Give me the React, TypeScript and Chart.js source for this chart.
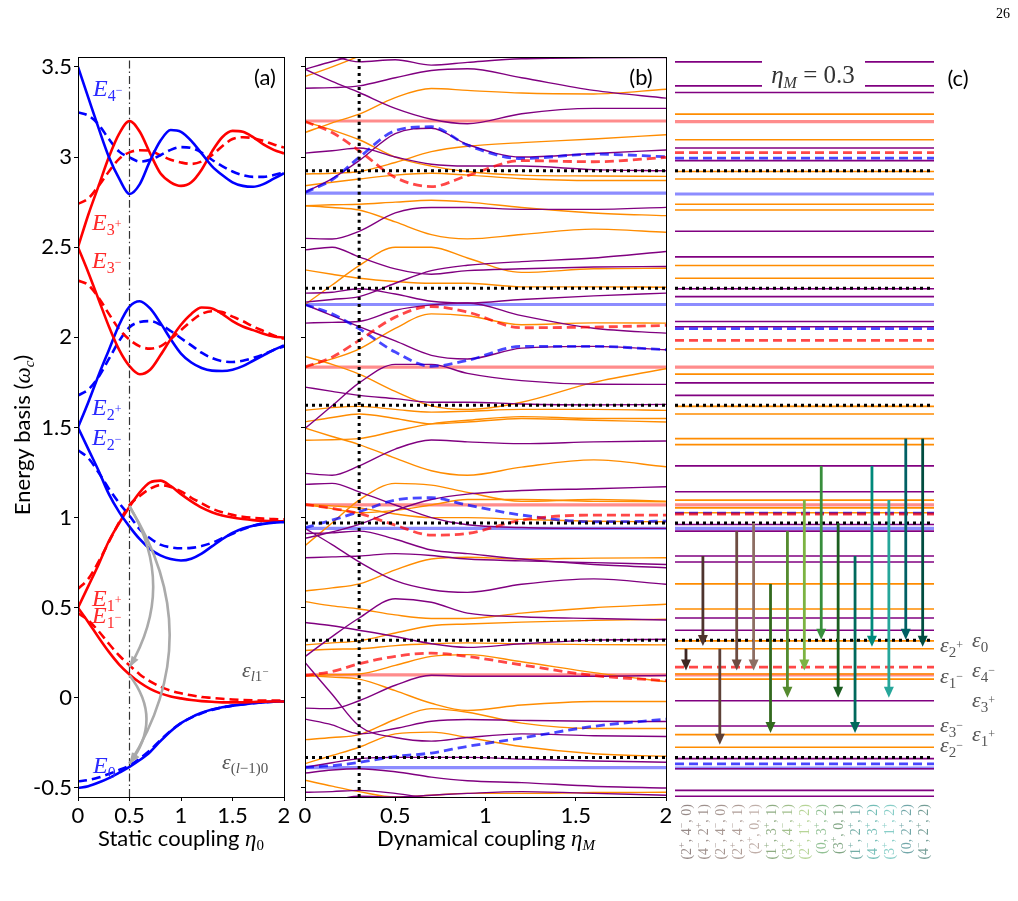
import React, { useEffect, useRef } from "react";
import { Chart, registerables } from "chart.js";
Chart.register(...registerables);

// ---------------- shared axes ----------------
const Y_MIN = -0.55;
const Y_MAX = 3.555;
const Y_TICKS = [-0.5, 0, 0.5, 1, 1.5, 2, 2.5, 3, 3.5];
const Y_TICK_LABELS = ["-0.5", "0", "0.5", "1", "1.5", "2", "2.5", "3", "3.5"];
const X_TICKS = [0, 0.5, 1, 1.5, 2];
const X_TICK_LABELS = ["0", "0.5", "1", "1.5", "2"];

// ---------------- panel (a): static coupling ----------------
const ETA0 = [0, 0.1, 0.2, 0.3, 0.4, 0.5, 0.6, 0.7, 0.8, 0.9, 1.0, 1.1, 1.2, 1.3, 1.4, 1.5, 1.6, 1.7, 1.8, 1.9, 2.0];
const E4M = [3.5, 3.33, 3.16, 3.0, 2.88, 2.795, 2.85, 2.98, 3.09, 3.15, 3.14, 3.09, 3.02, 2.95, 2.9, 2.86, 2.84, 2.835, 2.85, 2.88, 2.91];
const E4M_D = [3.247, 3.23, 3.18, 3.1, 3.03, 2.998, 2.975, 2.985, 3.01, 3.04, 3.055, 3.05, 3.025, 2.985, 2.95, 2.92, 2.9, 2.89, 2.89, 2.9, 2.915];
const E3P = [2.5, 2.68, 2.84, 3.0, 3.13, 3.2, 3.14, 3.02, 2.91, 2.86, 2.84, 2.86, 2.93, 3.03, 3.11, 3.145, 3.14, 3.11, 3.07, 3.04, 3.02];
const E3P_D = [2.74, 2.77, 2.84, 2.92, 2.99, 3.026, 3.038, 3.035, 3.01, 2.985, 2.97, 2.962, 2.975, 3.01, 3.06, 3.1, 3.11, 3.105, 3.09, 3.07, 3.053];
const E3M = [2.5, 2.36, 2.21, 2.06, 1.93, 1.84, 1.795, 1.82, 1.9, 1.99, 2.07, 2.13, 2.165, 2.16, 2.13, 2.09, 2.06, 2.04, 2.02, 2.005, 1.998];
const E3M_D = [2.315, 2.29, 2.22, 2.13, 2.045, 1.987, 1.95, 1.937, 1.95, 1.99, 2.04, 2.09, 2.13, 2.145, 2.14, 2.115, 2.09, 2.06, 2.035, 2.01, 1.992];
const E2P = [1.5, 1.64, 1.79, 1.93, 2.07, 2.17, 2.2, 2.16, 2.08, 1.99, 1.91, 1.86, 1.83, 1.815, 1.813, 1.82, 1.84, 1.87, 1.9, 1.93, 1.955];
const E2P_D = [1.678, 1.71, 1.78, 1.88, 1.98, 2.056, 2.085, 2.09, 2.07, 2.035, 1.995, 1.955, 1.915, 1.885, 1.868, 1.863, 1.87, 1.885, 1.905, 1.93, 1.95];
const E2M = [1.5, 1.38, 1.26, 1.13, 1.03, 0.95, 0.88, 0.825, 0.79, 0.77, 0.762, 0.772, 0.8, 0.84, 0.88, 0.915, 0.94, 0.955, 0.965, 0.972, 0.975];
const E2M_D = [1.374, 1.33, 1.25, 1.16, 1.08, 1.01, 0.935, 0.885, 0.85, 0.835, 0.83, 0.832, 0.842, 0.86, 0.885, 0.91, 0.935, 0.955, 0.968, 0.975, 0.98];
const E1P = [0.5, 0.62, 0.74, 0.87, 0.97, 1.06, 1.14, 1.195, 1.205, 1.175, 1.13, 1.09, 1.055, 1.03, 1.012, 1.0, 0.992, 0.986, 0.982, 0.98, 0.98];
const E1P_D = [0.605, 0.66, 0.755, 0.865, 0.975, 1.07, 1.12, 1.16, 1.18, 1.17, 1.145, 1.11, 1.08, 1.05, 1.03, 1.015, 1.005, 0.998, 0.994, 0.992, 0.99];
const E1M = [0.5, 0.42, 0.335, 0.255, 0.185, 0.13, 0.085, 0.05, 0.025, 0.008, -0.003, -0.012, -0.018, -0.022, -0.025, -0.025, -0.025, -0.023, -0.021, -0.02, -0.02];
const E1M_D = [0.47, 0.43, 0.37, 0.3, 0.235, 0.18, 0.13, 0.092, 0.062, 0.04, 0.025, 0.014, 0.005, 0.0, -0.005, -0.009, -0.012, -0.014, -0.015, -0.015, -0.015];
const E0 = [-0.5, -0.49, -0.47, -0.445, -0.415, -0.383, -0.345, -0.3, -0.24, -0.185, -0.14, -0.108, -0.083, -0.065, -0.052, -0.043, -0.036, -0.03, -0.025, -0.022, -0.02];
const E0_D = [-0.463, -0.456, -0.442, -0.422, -0.4, -0.375, -0.337, -0.29, -0.235, -0.183, -0.14, -0.11, -0.086, -0.067, -0.053, -0.043, -0.036, -0.03, -0.025, -0.022, -0.02];
const ETA0_MARK = 0.5;
// gray transition arcs: start level, end level, bulge position
const ARC_FROM = [1.065, 1.06, 0.125];
const ARC_TO = [0.17, -0.365, -0.365];
const ARC_BULGE = [0.96, 1.28, 0.83];

// ---------------- panel (b): dynamical coupling ----------------
const ETAM = [0, 0.15, 0.3, 0.5, 0.7, 0.9, 1.2, 1.6, 2.0];
const B_PURPLE = [
  [3.487, 3.53, 3.57, 3.62, 3.66, 3.7, 3.75, 3.8, 3.85],
  [3.6, 3.56, 3.528, 3.54, 3.51, 3.525, 3.545, 3.55, 3.552],
  [3.382, 3.385, 3.395, 3.44, 3.48, 3.49, 3.44, 3.37, 3.327],
  [3.487, 3.42, 3.358, 3.27, 3.21, 3.185, 3.24, 3.27, 3.27],
  [3.022, 3.035, 3.05, 3.0, 2.96, 2.95, 2.95, 2.93, 2.924],
  [2.804, 2.88, 2.98, 3.13, 3.16, 3.07, 3.0, 3.02, 3.039],
  [2.549, 2.545, 2.588, 2.69, 2.72, 2.72, 2.71, 2.71, 2.721],
  [2.485, 2.5, 2.446, 2.38, 2.35, 2.37, 2.38, 2.39, 2.393],
  [2.245, 2.25, 2.269, 2.24, 2.2, 2.19, 2.21, 2.23, 2.245],
  [2.195, 2.21, 2.226, 2.3, 2.37, 2.4, 2.42, 2.44, 2.476],
  [2.079, 2.083, 2.088, 2.15, 2.18, 2.19, 2.12, 2.05, 2.023],
  [2.182, 2.12, 2.059, 1.98, 1.9, 1.88, 1.94, 1.95, 1.931],
  [1.724, 1.7, 1.678, 1.66, 1.64, 1.64, 1.63, 1.625, 1.628],
  [1.494, 1.62, 1.747, 1.85, 1.85, 1.8, 1.76, 1.74, 1.739],
  [1.245, 1.235, 1.287, 1.38, 1.43, 1.42, 1.41, 1.42, 1.425],
  [1.184, 1.19, 1.143, 1.07, 1.0, 0.96, 0.945, 0.94, 0.94],
  [0.885, 0.92, 0.962, 1.04, 1.1, 1.13, 1.15, 1.16, 1.171],
  [0.912, 0.915, 0.925, 0.88, 0.82, 0.8, 0.77, 0.74, 0.722],
  [0.777, 0.782, 0.787, 0.8, 0.79, 0.77, 0.76, 0.75, 0.74],
  [0.94, 0.85, 0.754, 0.65, 0.6, 0.585, 0.63, 0.66, 0.63],
  [0.229, 0.34, 0.443, 0.55, 0.53, 0.47, 0.45, 0.44, 0.432],
  [0.418, 0.4, 0.375, 0.34, 0.3, 0.28, 0.3, 0.32, 0.325],
  [-0.057, -0.06, -0.016, 0.07, 0.125, 0.12, 0.12, 0.12, 0.124],
  [0.196, 0.02, -0.156, -0.22, -0.24, -0.22, -0.2, -0.21, -0.214],
  [-0.118, -0.15, -0.2, -0.17, -0.13, -0.12, -0.125, -0.13, -0.131],
  [-0.385, -0.36, -0.337, -0.33, -0.33, -0.33, -0.34, -0.35, -0.357],
  [-0.417, -0.4, -0.393, -0.41, -0.44, -0.46, -0.47, -0.49, -0.5],
  [-0.524, -0.52, -0.513, -0.53, -0.56, -0.58, -0.6, -0.6, -0.6],
  [-0.6, -0.57, -0.546, -0.55, -0.54, -0.53, -0.52, -0.53, -0.54],
];
const B_ORANGE = [
  [3.447, 3.5, 3.56, 3.65, 3.72, 3.8, 3.9, 3.95, 4.0],
  [3.136, 3.19, 3.238, 3.33, 3.38, 3.37, 3.355, 3.35, 3.376],
  [3.197, 3.15, 3.096, 3.0, 2.95, 2.92, 2.9, 2.895, 2.893],
  [2.906, 2.91, 2.92, 2.97, 3.03, 3.06, 3.08, 3.1, 3.124],
  [2.841, 2.86, 2.878, 2.9, 2.91, 2.9, 2.88, 2.87, 2.87],
  [2.73, 2.735, 2.738, 2.75, 2.76, 2.75, 2.72, 2.69, 2.675],
  [2.73, 2.72, 2.706, 2.64, 2.57, 2.546, 2.57, 2.6, 2.583],
  [2.182, 2.29, 2.398, 2.5, 2.5, 2.44, 2.36, 2.38, 2.383],
  [2.374, 2.35, 2.328, 2.31, 2.3, 2.3, 2.28, 2.28, 2.278],
  [1.835, 1.88, 1.935, 2.05, 2.13, 2.12, 2.07, 2.08, 2.079],
  [1.894, 1.85, 1.796, 1.7, 1.62, 1.6, 1.64, 1.75, 1.826],
  [1.595, 1.61, 1.617, 1.6, 1.585, 1.59, 1.6, 1.6, 1.595],
  [1.531, 1.555, 1.575, 1.55, 1.52, 1.53, 1.55, 1.54, 1.53],
  [1.429, 1.432, 1.438, 1.48, 1.52, 1.54, 1.56, 1.55, 1.55],
  [1.497, 1.45, 1.405, 1.33, 1.26, 1.235, 1.28, 1.32, 1.282],
  [0.844, 0.97, 1.097, 1.19, 1.18, 1.14, 1.09, 1.1, 1.091],
  [1.073, 1.065, 1.054, 1.02, 1.0, 1.0, 0.99, 0.98, 0.977],
  [1.073, 1.05, 1.027, 1.04, 1.07, 1.1, 1.1, 1.09, 1.088],
  [0.593, 0.61, 0.632, 0.71, 0.77, 0.78, 0.77, 0.775, 0.777],
  [0.534, 0.51, 0.493, 0.46, 0.44, 0.44, 0.47, 0.5, 0.519],
  [0.294, 0.305, 0.316, 0.36, 0.4, 0.41, 0.42, 0.43, 0.436],
  [0.263, 0.27, 0.272, 0.29, 0.3, 0.305, 0.3, 0.295, 0.294],
  [0.124, 0.128, 0.132, 0.18, 0.23, 0.24, 0.2, 0.14, 0.09],
  [0.124, 0.115, 0.104, 0.04, -0.03, -0.07, -0.04, -0.02, -0.02],
  [-0.232, -0.22, -0.204, -0.12, -0.06, -0.08, -0.14, -0.17, -0.17],
  [-0.365, -0.32, -0.274, -0.2, -0.19, -0.22, -0.27, -0.31, -0.324],
  [-0.457, -0.49, -0.52, -0.55, -0.54, -0.53, -0.53, -0.525, -0.524],
];
const B_RED_DASH = [
  [3.197, 3.136, 3.035, 2.887, 2.836, 2.897, 2.98, 2.974, 2.998],
  [1.835, 1.89, 1.983, 2.112, 2.171, 2.14, 2.053, 2.057, 2.066],
  [1.073, 1.051, 1.023, 0.958, 0.903, 0.912, 0.986, 1.014, 1.014],
  [0.124, 0.146, 0.189, 0.23, 0.248, 0.23, 0.183, 0.124, 0.095],
];
const B_BLUE_DASH = [
  [2.804, 2.874, 2.998, 3.146, 3.168, 3.066, 2.992, 3.016, 3.002],
  [2.182, 2.13, 2.047, 1.918, 1.839, 1.872, 1.95, 1.95, 1.931],
  [0.944, 0.986, 1.032, 1.097, 1.11, 1.069, 1.014, 0.977, 0.98],
  [-0.385, -0.376, -0.358, -0.325, -0.306, -0.269, -0.223, -0.158, -0.118],
];
const STATIC_RED = [3.2, 1.835, 1.071, 0.128];
const STATIC_BLUE = [2.8, 2.182, 0.94, -0.387];
const LADDER = [2.924, 2.272, 1.623, 0.97, 0.32, -0.331];
const ETAM_MARK = 0.3;

// ---------------- panel (c): spectrum at etaM = 0.3 ----------------
const C_PURPLE = [3.528, 3.395, 3.358, 3.05, 2.98, 2.588, 2.446, 2.269, 2.226, 2.088, 2.059, 1.747, 1.678, 1.287, 1.143, 0.962, 0.925, 0.787, 0.754, 0.443, 0.375, -0.016, -0.156, -0.337, -0.393, -0.513, -0.546];
const C_ORANGE = [3.238, 3.096, 2.92, 2.878, 2.738, 2.706, 2.398, 2.328, 1.935, 1.796, 1.617, 1.575, 1.438, 1.405, 1.097, 1.054, 1.027, 0.632, 0.493, 0.316, 0.272, 0.132, 0.104, -0.204, -0.274];
const C_PINK = [3.197, 1.835, 1.071, 0.128];
const C_BLUE = [2.795, 2.182, 0.94, -0.389];
const C_RED_DASH = [3.024, 1.983, 1.019, 0.171];
const C_BLUE_DASH = [2.994, 2.048, 1.025, -0.366];
const C_DOTTED = [2.924, 2.272, 1.623, 0.97, 0.32, -0.331];
const ARROW_FROM = [0.272, 0.787, 0.272, 0.925, 0.97, 0.632, 0.925, 1.097, 1.287, 0.97, 0.787, 1.287, 1.097, 1.438, 1.438];
const ARROW_TO = [0.152, 0.288, -0.26, 0.152, 0.152, -0.195, 0.0, 0.152, 0.322, 0.0, -0.195, 0.284, 0.0, 0.322, 0.284];
const ARROW_COLORS = ["#3e2723", "#4e342e", "#5d4037", "#6d4c41", "#8d6e63", "#33691e", "#558b2f", "#7cb342", "#388e3c", "#1b5e20", "#00695c", "#00897b", "#26a69a", "#006064", "#004d40"];
const ARROW_LABELS: [string, string, string, string, string][] = [
  ["2", "+", "4", "−", "0"], ["4", "−", "2", "+", "1"], ["2", "−", "4", "−", "0"], ["2", "+", "4", "−", "1"], ["2", "+", "0", "", "1"],
  ["1", "+", "3", "+", "1"], ["3", "+", "4", "−", "1"], ["2", "+", "1", "+", "2"], ["0", "", "3", "+", "2"], ["3", "+", "0", "", "1"],
  ["1", "+", "2", "+", "1"], ["4", "−", "3", "+", "2"], ["3", "+", "1", "+", "2"], ["0", "", "2", "+", "2"], ["4", "−", "2", "+", "2"],
];

// ---------------- styles ----------------
const PURPLE = "#800080";
const ORANGE = "#ff8c00";
const BLUE = "#0000ff";
const RED = "#ff0000";
const PINK_THICK = "rgba(255,0,0,0.45)";
const BLUE_THICK = "rgba(0,0,255,0.45)";
const RED_DASHED = "rgba(255,0,0,0.72)";
const BLUE_DASHED = "rgba(0,0,255,0.72)";
const SANS = "Lato";
const SERIF = "'Liberation Serif'";

type Seg = { t: string; f: string; dy?: number };
function rich(ctx: CanvasRenderingContext2D, segs: Seg[], x: number, y: number, align: string, color: string) {
  ctx.save();
  ctx.textAlign = "left";
  ctx.textBaseline = "alphabetic";
  ctx.fillStyle = color;
  const w = segs.map((s) => {
    ctx.font = s.f;
    return ctx.measureText(s.t).width;
  });
  const total = w.reduce((a, b) => a + b, 0);
  let cx = align === "center" ? x - total / 2 : align === "right" ? x - total : x;
  segs.forEach((s, i) => {
    ctx.font = s.f;
    ctx.fillText(s.t, cx, y + (s.dy || 0));
    cx += w[i];
  });
  ctx.restore();
}

function mathE(sub: string, sup: string): Seg[] {
  const segs: Seg[] = [{ t: "E", f: `italic 24px ${SERIF}` }, { t: sub, f: `16px ${SERIF}`, dy: 5 }];
  if (sup) segs.push({ t: sup === "−" ? "−" : "+", f: `12px ${SERIF}`, dy: -2 });
  return segs;
}
function eps(sub: Seg[]): Seg[] {
  return [{ t: "ε", f: `italic 22px ${SERIF}` }, ...sub];
}

function frame(chart: any) {
  const { ctx, chartArea: a } = chart;
  ctx.save();
  ctx.strokeStyle = "#000";
  ctx.lineWidth = 1;
  ctx.strokeRect(Math.round(a.left) + 0.5, Math.round(a.top) + 0.5, Math.round(a.right - a.left), Math.round(a.bottom - a.top));
  ctx.restore();
}

function arrowHead(ctx: CanvasRenderingContext2D, x: number, y: number, ang: number, len: number, wid: number, color: string) {
  ctx.save();
  ctx.translate(x, y);
  ctx.rotate(ang);
  ctx.beginPath();
  ctx.moveTo(0, 0);
  ctx.lineTo(-len, wid / 2);
  ctx.lineTo(-len, -wid / 2);
  ctx.closePath();
  ctx.fillStyle = color;
  ctx.fill();
  ctx.restore();
}

const pts = (xs: number[], ys: number[]) => xs.map((x, i) => ({ x, y: ys[i] }));
const hline = (y: number, x0: number, x1: number) => [{ x: x0, y }, { x: x1, y }];

function axesOptions(showYLabels: boolean, yWidth: number) {
  return {
    x: {
      type: "linear",
      min: 0,
      max: 2,
      afterBuildTicks: (s: any) => { s.ticks = X_TICKS.map((v) => ({ value: v })); },
      afterFit: (s: any) => { s.height = 104; },
      grid: { display: true, drawOnChartArea: false, drawTicks: true, tickLength: 4, color: "#000", lineWidth: 1 },
      border: { display: true, color: "#000", width: 1 },
      ticks: { font: { family: SANS, size: 22 }, color: "#000", padding: 2, maxRotation: 0, autoSkip: false, callback: (_v: any, i: number) => X_TICK_LABELS[i] },
    },
    y: {
      type: "linear",
      min: Y_MIN,
      max: Y_MAX,
      afterBuildTicks: (s: any) => { s.ticks = Y_TICKS.map((v) => ({ value: v })); },
      afterFit: (s: any) => { s.width = yWidth; },
      grid: { display: true, drawOnChartArea: false, drawTicks: true, tickLength: 4, color: "#000", lineWidth: 1 },
      border: { display: true, color: "#000", width: 1 },
      ticks: { display: showYLabels, font: { family: SANS, size: 22 }, color: "#000", padding: 2, autoSkip: false, callback: (_v: any, i: number) => Y_TICK_LABELS[i] },
    },
  };
}

const baseOpts = {
  responsive: false,
  animation: false,
  devicePixelRatio: 1,
  events: [],
  plugins: { legend: { display: false }, tooltip: { enabled: false } },
  elements: { point: { radius: 0 }, line: { cubicInterpolationMode: "monotone" } },
};

function configA(): any {
  const curve = (ys: number[], color: string, dashed: boolean) => ({
    data: pts(ETA0, ys),
    borderColor: color,
    borderWidth: 2.6,
    borderDash: dashed ? [9, 5] : [],
    order: dashed ? 3 : 2,
  });
  const datasets = [
    curve(E4M, BLUE, false), curve(E4M_D, BLUE, true),
    curve(E3P, RED, false), curve(E3P_D, RED, true),
    curve(E3M, RED, false), curve(E3M_D, RED, true),
    curve(E2P, BLUE, false), curve(E2P_D, BLUE, true),
    curve(E2M, BLUE, false), curve(E2M_D, BLUE, true),
    curve(E1P, RED, false), curve(E1P_D, RED, true),
    curve(E1M, RED, false), curve(E1M_D, RED, true),
    curve(E0, BLUE, false), curve(E0_D, BLUE, true),
    { data: [{ x: ETA0_MARK, y: Y_MIN }, { x: ETA0_MARK, y: Y_MAX }], borderColor: "#333", borderWidth: 1.2, borderDash: [8, 3, 1.5, 3], order: 1 },
  ];
  const plugin = {
    id: "pa",
    afterDatasetsDraw(chart: any) {
      const { ctx } = chart;
      const xs = chart.scales.x, ys = chart.scales.y;
      ctx.save();
      ctx.strokeStyle = "#aaaaaa";
      ctx.lineWidth = 2.6;
      for (let i = 0; i < ARC_FROM.length; i++) {
        const x0 = xs.getPixelForValue(ETA0_MARK), y0 = ys.getPixelForValue(ARC_FROM[i]);
        const y1 = ys.getPixelForValue(ARC_TO[i]);
        const cxp = xs.getPixelForValue(ARC_BULGE[i]), cyp = (y0 + y1) / 2;
        ctx.beginPath();
        ctx.moveTo(x0, y0);
        ctx.quadraticCurveTo(cxp, cyp, x0, y1);
        ctx.stroke();
        const ang = Math.atan2(y1 - cyp, x0 - cxp);
        arrowHead(ctx, x0, y1, ang, 11, 8, "#aaaaaa");
      }
      ctx.restore();
    },
    afterDraw(chart: any) {
      const { ctx } = chart;
      frame(chart);
      const blue = "#2a2aff", red = "#ff2a2a", gray = "#555";
      rich(ctx, mathE("4", "−"), 93, 96, "left", blue);
      rich(ctx, mathE("3", "+"), 92, 230, "left", red);
      rich(ctx, mathE("3", "−"), 92, 268, "left", red);
      rich(ctx, mathE("2", "+"), 92, 415, "left", blue);
      rich(ctx, mathE("2", "−"), 92, 445, "left", blue);
      rich(ctx, mathE("1", "+"), 92, 606, "left", red);
      rich(ctx, mathE("1", "−"), 92, 623, "left", red);
      rich(ctx, [{ t: "E", f: `italic 24px ${SERIF}` }, { t: "0", f: `16px ${SERIF}`, dy: 5 }], 93, 773, "left", blue);
      rich(ctx, eps([{ t: "l", f: `italic 15px ${SERIF}`, dy: 4 }, { t: "1", f: `15px ${SERIF}`, dy: 4 }, { t: "−", f: `11px ${SERIF}`, dy: -2 }]), 242, 677, "left", gray);
      rich(ctx, eps([{ t: "(", f: `15px ${SERIF}`, dy: 4 }, { t: "l", f: `italic 15px ${SERIF}`, dy: 4 }, { t: "−1)0", f: `15px ${SERIF}`, dy: 4 }]), 222, 769, "left", gray);
      rich(ctx, [{ t: "(a)", f: `22px ${SANS}` }], 265, 85, "center", "#000");
      rich(ctx, [{ t: "Static coupling ", f: `22px ${SANS}` }, { t: "η", f: `italic 23px ${SERIF}` }, { t: "0", f: `15px ${SERIF}`, dy: 4 }], 181, 846, "center", "#000");
      ctx.save();
      ctx.translate(30, 435);
      ctx.rotate(-Math.PI / 2);
      rich(ctx, [{ t: "Energy basis (", f: `22px ${SANS}` }, { t: "ω", f: `italic 23px ${SERIF}` }, { t: "c", f: `italic 15px ${SERIF}`, dy: 4 }, { t: ")", f: `22px ${SANS}` }], 0, 0, "center", "#000");
      ctx.restore();
    },
  };
  return {
    type: "line",
    data: { datasets },
    options: { ...baseOpts, layout: { padding: { left: 0, right: 16, top: 57, bottom: 0 } }, scales: axesOptions(true, 78) },
    plugins: [plugin],
  };
}

function configB(): any {
  const OX = 290;
  const datasets: any[] = [];
  STATIC_RED.forEach((y) => datasets.push({ data: hline(y, 0, 2), borderColor: PINK_THICK, borderWidth: 3.2, order: 6 }));
  STATIC_BLUE.forEach((y) => datasets.push({ data: hline(y, 0, 2), borderColor: BLUE_THICK, borderWidth: 3.2, order: 6 }));
  B_PURPLE.forEach((ys) => datasets.push({ data: pts(ETAM, ys), borderColor: PURPLE, borderWidth: 1.4, order: 5 }));
  B_ORANGE.forEach((ys) => datasets.push({ data: pts(ETAM, ys), borderColor: ORANGE, borderWidth: 1.4, order: 5 }));
  B_RED_DASH.forEach((ys) => datasets.push({ data: pts(ETAM, ys), borderColor: RED_DASHED, borderWidth: 2.8, borderDash: [9, 5], order: 4 }));
  B_BLUE_DASH.forEach((ys) => datasets.push({ data: pts(ETAM, ys), borderColor: BLUE_DASHED, borderWidth: 2.8, borderDash: [9, 5], order: 4 }));
  LADDER.forEach((y) => datasets.push({ data: hline(y, 0, 2), borderColor: "#000", borderWidth: 3, borderDash: [3, 4], order: 3 }));
  datasets.push({ data: [{ x: ETAM_MARK, y: Y_MIN }, { x: ETAM_MARK, y: Y_MAX }], borderColor: "#000", borderWidth: 3, borderDash: [3, 4], order: 2 });
  const plugin = {
    id: "pb",
    afterDraw(chart: any) {
      const { ctx } = chart;
      frame(chart);
      rich(ctx, [{ t: "(b)", f: `22px ${SANS}` }], 641 - OX, 85, "center", "#000");
      rich(ctx, [{ t: "Dynamical coupling ", f: `22px ${SANS}` }, { t: "η", f: `italic 23px ${SERIF}` }, { t: "M", f: `italic 15px ${SERIF}`, dy: 4 }], 486 - OX, 846, "center", "#000");
    },
  };
  return {
    type: "line",
    data: { datasets },
    options: { ...baseOpts, layout: { padding: { left: 0, right: 14, top: 57, bottom: 0 } }, scales: axesOptions(false, 15) },
    plugins: [plugin],
  };
}

function configC(): any {
  const X0 = -0.65, X1 = 14.67;
  const OX = 660;
  const datasets: any[] = [];
  C_PINK.forEach((y) => datasets.push({ data: hline(y, X0, X1), borderColor: PINK_THICK, borderWidth: 3.2, order: 6 }));
  C_BLUE.forEach((y) => datasets.push({ data: hline(y, X0, X1), borderColor: BLUE_THICK, borderWidth: 3.2, order: 6 }));
  C_PURPLE.forEach((y) => datasets.push({ data: hline(y, X0, X1), borderColor: PURPLE, borderWidth: 1.6, order: 5 }));
  C_ORANGE.forEach((y) => datasets.push({ data: hline(y, X0, X1), borderColor: ORANGE, borderWidth: 1.6, order: 5 }));
  C_RED_DASH.forEach((y) => datasets.push({ data: hline(y, X0, X1), borderColor: RED_DASHED, borderWidth: 2.8, borderDash: [9, 5], order: 4 }));
  C_BLUE_DASH.forEach((y) => datasets.push({ data: hline(y, X0, X1), borderColor: BLUE_DASHED, borderWidth: 2.8, borderDash: [9, 5], order: 4 }));
  C_DOTTED.forEach((y) => datasets.push({ data: hline(y, X0, X1), borderColor: "#000", borderWidth: 3, borderDash: [3, 4], order: 3 }));
  const plugin = {
    id: "pc",
    afterDatasetsDraw(chart: any) {
      const { ctx } = chart;
      const xs = chart.scales.x, ys = chart.scales.y;
      ctx.save();
      ctx.fillStyle = "#fff";
      ctx.fillRect(762 - OX, 58, 103, 30);
      ctx.restore();
      ctx.save();
      for (let i = 0; i < ARROW_FROM.length; i++) {
        const x = xs.getPixelForValue(i);
        const y0 = ys.getPixelForValue(ARROW_FROM[i]);
        const y1 = ys.getPixelForValue(ARROW_TO[i]);
        ctx.strokeStyle = ARROW_COLORS[i];
        ctx.lineWidth = 2.8;
        ctx.beginPath();
        ctx.moveTo(x, y0);
        ctx.lineTo(x, y1 - 9);
        ctx.stroke();
        arrowHead(ctx, x, y1, Math.PI / 2, 11, 10, ARROW_COLORS[i]);
      }
      ctx.restore();
    },
    afterDraw(chart: any) {
      const { ctx } = chart;
      const xs = chart.scales.x;
      rich(ctx, [{ t: "η", f: `italic 25px ${SERIF}` }, { t: "M", f: `italic 16px ${SERIF}`, dy: 5 }, { t: " = 0.3", f: `25px ${SERIF}` }], 813 - OX, 83, "center", "#333");
      rich(ctx, [{ t: "(c)", f: `22px ${SANS}` }], 958 - OX, 86, "center", "#000");
      rich(ctx, [{ t: "26", f: `14px ${SERIF}` }], 1010 - OX, 18, "right", "#000");
      const g = "#555";
      const sub = (n: string, s: string): Seg[] => {
        const r: Seg[] = [{ t: n, f: `15px ${SERIF}`, dy: 5 }];
        if (s) r.push({ t: s, f: `12px ${SERIF}`, dy: -3 });
        return r;
      };
      rich(ctx, eps(sub("2", "+")), 940 - OX, 652, "left", g);
      rich(ctx, eps(sub("0", "")), 972 - OX, 647, "left", g);
      rich(ctx, eps(sub("1", "−")), 940 - OX, 683, "left", g);
      rich(ctx, eps(sub("4", "−")), 972 - OX, 677, "left", g);
      rich(ctx, eps(sub("3", "+")), 972 - OX, 707, "left", g);
      rich(ctx, eps(sub("3", "−")), 940 - OX, 732, "left", g);
      rich(ctx, eps(sub("1", "+")), 972 - OX, 741, "left", g);
      rich(ctx, eps(sub("2", "−")), 940 - OX, 752, "left", g);
      for (let i = 0; i < ARROW_LABELS.length; i++) {
        const L = ARROW_LABELS[i];
        const x = xs.getPixelForValue(i);
        const f = `14px ${SERIF}`, fs = `10px ${SERIF}`;
        const segs: Seg[] = [{ t: "(", f }, { t: L[0], f }];
        if (L[1]) segs.push({ t: L[1], f: fs, dy: -6 });
        segs.push({ t: ", ", f }, { t: L[2], f });
        if (L[3]) segs.push({ t: L[3], f: fs, dy: -6 });
        segs.push({ t: ", ", f }, { t: L[4], f }, { t: ")", f });
        ctx.save();
        ctx.translate(x + 5, 804);
        ctx.rotate(-Math.PI / 2);
        ctx.globalAlpha = 0.55;
        rich(ctx, segs, 0, 0, "right", ARROW_COLORS[i]);
        ctx.restore();
      }
    },
  };
  return {
    type: "line",
    data: { datasets },
    options: {
      ...baseOpts,
      layout: { padding: { left: 15, right: 84, top: 57, bottom: 104 } },
      scales: {
        x: { type: "linear", min: X0, max: X1, display: false },
        y: { type: "linear", min: Y_MIN, max: Y_MAX, display: false },
      },
    },
    plugins: [plugin],
  };
}

export default function App() {
  const refA = useRef<HTMLCanvasElement>(null);
  const refB = useRef<HTMLCanvasElement>(null);
  const refC = useRef<HTMLCanvasElement>(null);
  useEffect(() => {
    const a = new Chart(refA.current as HTMLCanvasElement, configA());
    const b = new Chart(refB.current as HTMLCanvasElement, configB());
    const c = new Chart(refC.current as HTMLCanvasElement, configC());
    return () => {
      a.destroy();
      b.destroy();
      c.destroy();
    };
  }, []);
  return (
    <div style={{ position: "absolute", left: 0, top: 0, width: 1018, height: 901, background: "#fff", overflow: "hidden" }}>
      <canvas ref={refA} width={300} height={901} style={{ position: "absolute", left: 0, top: 0, width: 300, height: 901 }} />
      <canvas ref={refB} width={390} height={901} style={{ position: "absolute", left: 290, top: 0, width: 390, height: 901 }} />
      <canvas ref={refC} width={358} height={901} style={{ position: "absolute", left: 660, top: 0, width: 358, height: 901 }} />
    </div>
  );
}
